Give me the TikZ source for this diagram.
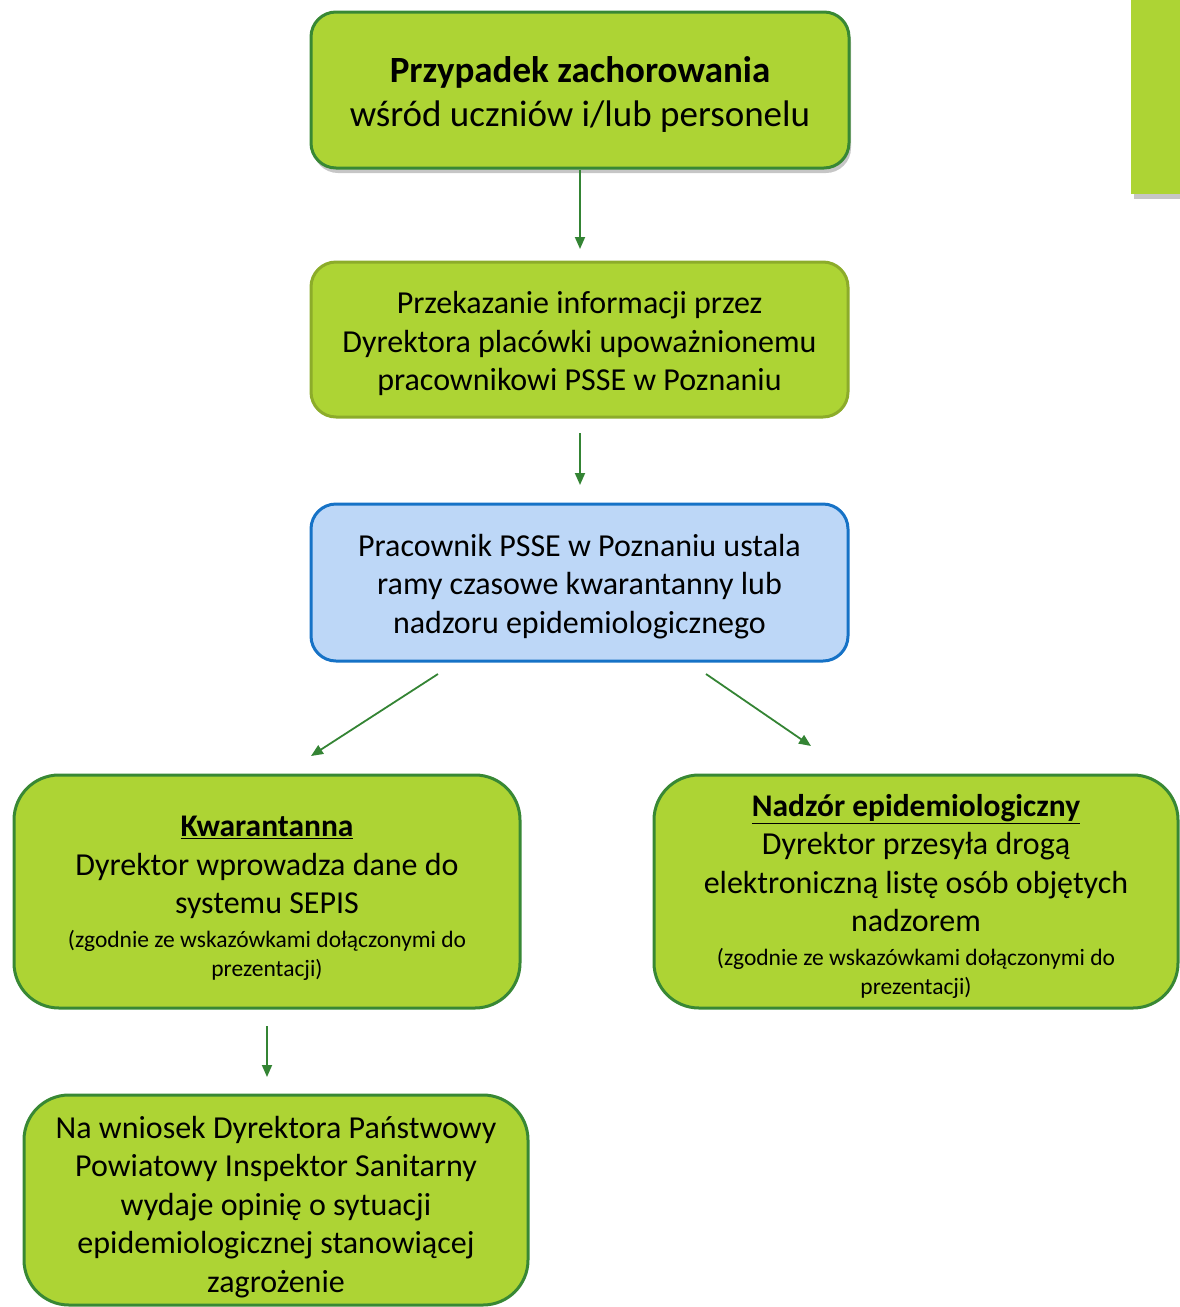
\documentclass[tikz,border=0pt]{standalone}
\usepackage{fontspec}
\setmainfont{Carlito}
\usetikzlibrary{arrows.meta,shadows}
\definecolor{lime}{RGB}{173,212,52}
\definecolor{dkgreen}{RGB}{56,136,52}
\definecolor{olive}{RGB}{140,172,42}
\definecolor{lblue}{RGB}{189,215,247}
\definecolor{dblue}{RGB}{22,114,198}
\definecolor{arrowgreen}{RGB}{52,132,52}
\tikzset{
  box/.style={draw, line width=3pt, fill=lime, inner sep=0pt},
  boxtext/.style={inner sep=0pt, align=center, text=black, font=\fontsize{32}{38.5}\selectfont},
  flowarrow/.style={draw=arrowgreen, line width=1.8pt, -{Triangle[length=12pt,width=10pt]}, arrowgreen}
}
\newcommand{\smalltxt}[1]{{\fontsize{23.5}{29}\selectfont #1}}
\newcommand{\headtxt}[1]{{\fontsize{31.5}{38}\selectfont\textbf{\underline{#1}}}}
\begin{document}
\begin{tikzpicture}[x=1pt,y=-1pt]
\useasboundingbox (0,0) rectangle (1179,1307);

% side decorative rectangle
\node[fill=lime, draw=none, minimum width=60pt, minimum height=200pt, inner sep=0pt,
      drop shadow={opacity=0.45, shadow xshift=3pt, shadow yshift=-5pt}, anchor=north west] (side) at (1131,-6) {};

% top box
\node[box, draw=dkgreen, rounded corners=25pt, minimum width=538pt, minimum height=156pt,
      drop shadow={opacity=0.45, shadow xshift=2pt, shadow yshift=-5pt}] (top) at (580,90) {};
\node[boxtext, font=\fontsize{37}{44}\selectfont] (top-t) at ([yshift=-4pt]top.center)
  {\textbf{Przypadek zachorowania}\\wśród uczniów i/lub personelu};

% second box
\node[box, draw=olive, rounded corners=25pt, minimum width=537pt, minimum height=155pt] (info) at (579.5,339.5) {};
\node[boxtext] (info-t) at ([yshift=-4pt]info.center)
  {Przekazanie informacji przez\\Dyrektora placówki upoważnionemu\\pracownikowi PSSE w Poznaniu};

% blue box
\node[box, draw=dblue, fill=lblue, rounded corners=25pt, minimum width=537pt, minimum height=157pt] (psse) at (579.5,582.5) {};
\node[boxtext] (psse-t) at ([yshift=-4pt]psse.center)
  {Pracownik PSSE w Poznaniu ustala\\ramy czasowe kwarantanny lub\\nadzoru epidemiologicznego};

% left box
\node[box, draw=dkgreen, rounded corners=45pt, minimum width=506pt, minimum height=233pt] (kw) at (267,891.5) {};
\node[boxtext] (kw-t) at ([yshift=-7pt]kw.center)
  {\headtxt{Kwarantanna}\\Dyrektor wprowadza dane do\\systemu SEPIS\\[-5pt]
   \smalltxt{(zgodnie ze wskazówkami dołączonymi do}\\[-9pt]\smalltxt{prezentacji)}};

% right box
\node[box, draw=dkgreen, rounded corners=45pt, minimum width=524pt, minimum height=233pt] (nad) at (916,891.5) {};
\node[boxtext] (nad-t) at ([yshift=-5pt]nad.center)
  {\headtxt{Nadzór epidemiologiczny}\\Dyrektor przesyła drogą\\elektroniczną listę osób objętych\\nadzorem\\[-5pt]
   \smalltxt{(zgodnie ze wskazówkami dołączonymi do}\\[-9pt]\smalltxt{prezentacji)}};

% bottom box
\node[box, draw=dkgreen, rounded corners=45pt, minimum width=504pt, minimum height=210pt] (opinia) at (276,1200) {};
\node[boxtext] (opinia-t) at ([yshift=-7pt]opinia.center)
  {Na wniosek Dyrektora Państwowy\\Powiatowy Inspektor Sanitarny\\wydaje opinię o sytuacji\\epidemiologicznej stanowiącej\\zagrożenie};

% arrow end coordinates
\coordinate (a1e) at (580,249);
\coordinate (a2s) at (580,433);
\coordinate (a2e) at (580,485);
\coordinate (a3s) at (438,674);
\coordinate (a3e) at (311,756);
\coordinate (a4s) at (706,674);
\coordinate (a4e) at (811,746);
\coordinate (a5s) at (267,1026);
\coordinate (a5e) at (267,1077);

\draw[flowarrow] (top.south) -- (a1e);
\draw[flowarrow] (a2s) -- (a2e);
\draw[flowarrow] (a3s) -- (a3e);
\draw[flowarrow] (a4s) -- (a4e);
\draw[flowarrow] (a5s) -- (a5e);
\end{tikzpicture}
\end{document}
